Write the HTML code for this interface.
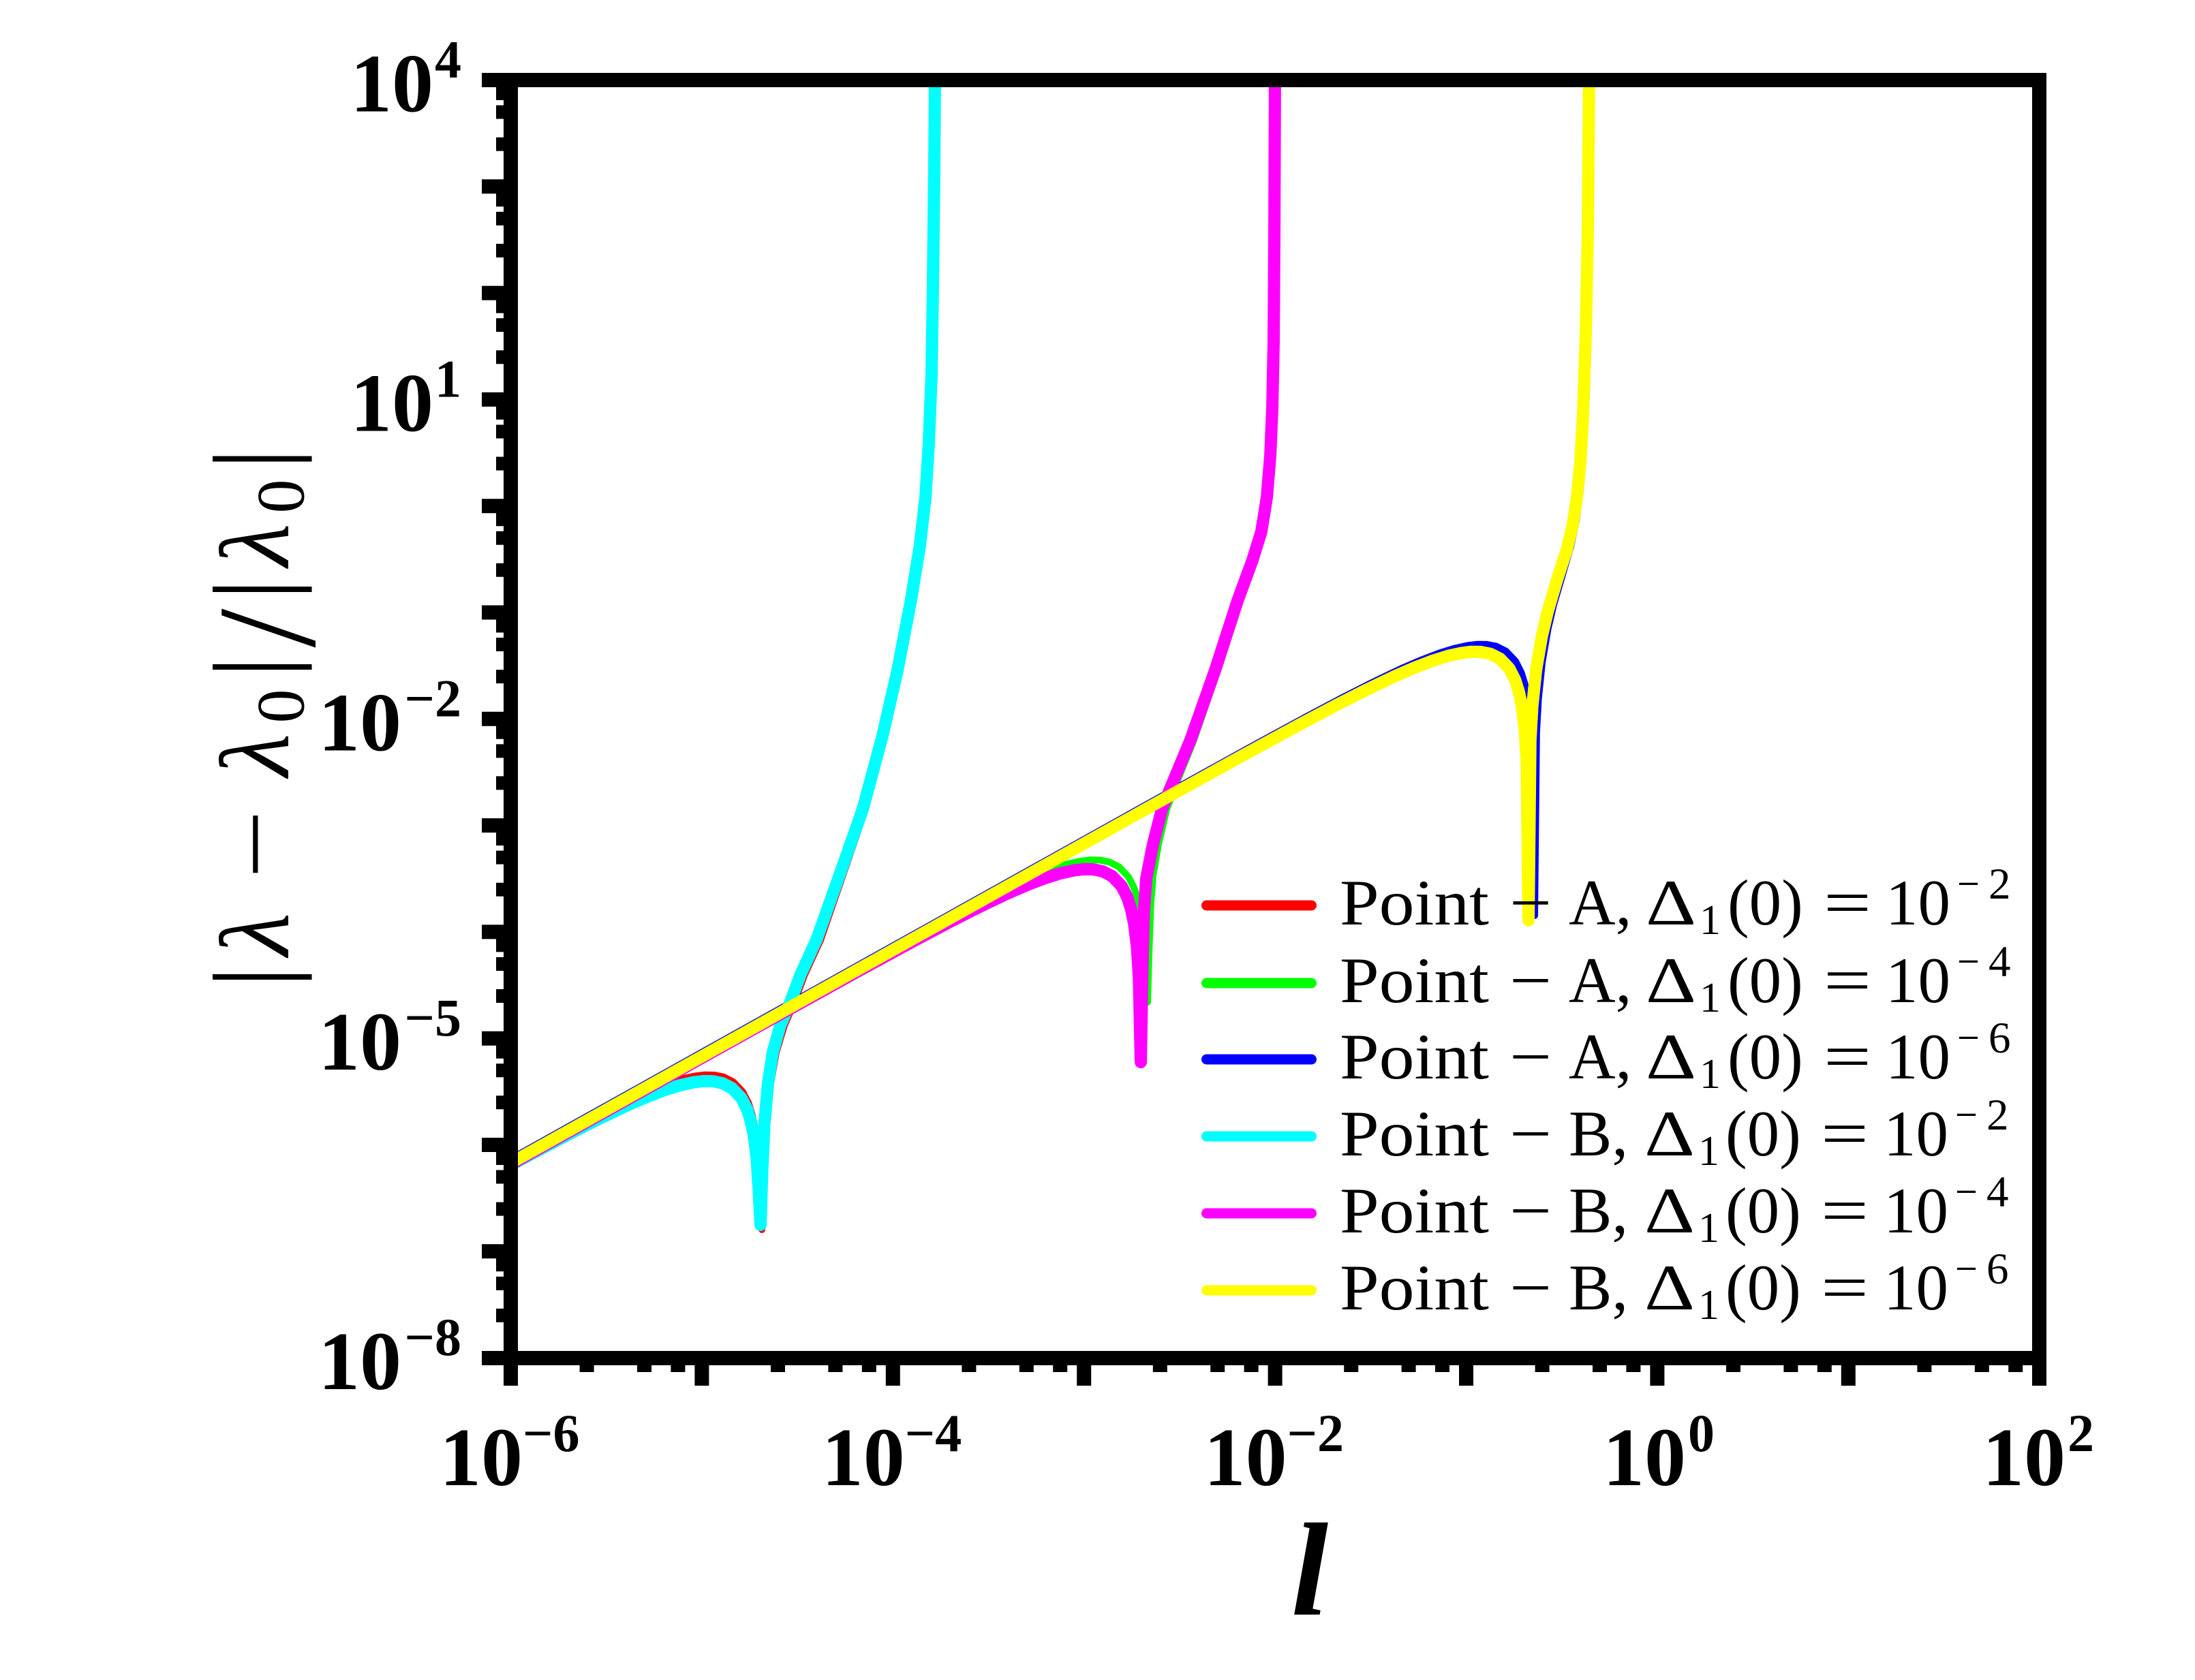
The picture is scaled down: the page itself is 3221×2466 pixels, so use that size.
<!DOCTYPE html>
<html>
<head>
<meta charset="utf-8">
<style>
html,body{margin:0;padding:0;background:#fff;}
svg{display:block;}
text{font-family:"Liberation Serif","Times New Roman",serif;fill:#000;}
</style>
</head>
<body>
<svg width="3221" height="2466" viewBox="0 0 3221 2466" xmlns="http://www.w3.org/2000/svg">
<defs>
<clipPath id="c"><rect x="760" y="128" width="2222" height="1855"/></clipPath>
</defs>
<rect x="0" y="0" width="3221" height="2466" fill="#fff"/>

<g clip-path="url(#c)" fill="none" stroke-linejoin="round" stroke-linecap="round">
<!-- red: Point A, 1e-2 -->
<path stroke="#ff0000" stroke-width="10" d="M750 1701.9 L781.5 1684.9 L837.6 1655.2 L879.7 1633.8 L921.7 1613.7 L949.8 1601.5 L977.8 1590.8 L1000.2 1583.8 L1019.9 1579.5 L1033.9 1577.8 L1047.9 1578 L1061.9 1580.8 L1075.9 1587.9 L1090 1602.7 L1098.4 1619.3 L1104 1637.2 L1108.2 1657.5 L1112.4 1691.5 L1115.2 1736 L1118 1805 L1120.5 1730 L1125 1650 L1131 1590 L1139 1545 L1151 1505 L1163 1478 L1181 1430 L1204 1380 L1235 1290 L1270 1188 L1298 1080 L1319 984 L1339 880 L1352 800 L1360 730 L1365 650 L1369 550 L1371 420 L1373 250 L1374 100"/>
<!-- green: Point A, 1e-4 -->
<path stroke="#00ff00" stroke-width="10" d="M750 1700.8 L1123.2 1492.7 L1263.4 1415.1 L1347.5 1369.4 L1403.6 1339.7 L1445.7 1318.3 L1487.7 1298.2 L1515.8 1286 L1543.8 1275.3 L1566.2 1268.3 L1585.9 1264 L1599.9 1262.3 L1613.9 1262.5 L1627.9 1265.3 L1641.9 1272.4 L1656 1287.2 L1664.4 1303.8 L1670 1321.7 L1674.2 1342 L1678.4 1376 L1681.2 1420.5 L1684 1471 L1686 1400 L1688.5 1330 L1692 1285 L1700 1239 L1712 1188 L1723 1158 L1752 1086 L1787 984 L1819 882 L1841 822 L1854 780 L1861 730 L1866 670 L1869 600 L1871 500 L1872 350 L1872.5 100"/>
<!-- blue: Point A, 1e-6 -->
<path stroke="#0000ff" stroke-width="10" d="M750 1700.8 L1691.2 1176.1 L1831.4 1098.5 L1915.5 1052.8 L1971.6 1023.1 L2013.7 1001.7 L2055.7 981.6 L2083.8 969.4 L2111.8 958.7 L2134.2 951.7 L2153.9 947.4 L2167.9 945.7 L2181.9 945.9 L2195.9 948.7 L2209.9 955.8 L2224 970.6 L2232.4 987.2 L2238 1005.1 L2242.2 1025.4 L2246.4 1059.4 L2249.2 1103.9 L2252 1344 L2254.8 1075.7 L2257.6 1025.4 L2263.2 971.6 L2271.6 923 L2280 887.5 L2294 839.7 L2305 802 L2313 765 L2319 720 L2324 660 L2328 580 L2331 460 L2333 320 L2335 100"/>
<!-- cyan: Point B, 1e-2 -->
<path stroke="#00ffff" stroke-width="18" d="M750 1709.9 L779.5 1694 L835.6 1664.3 L877.7 1642.9 L919.7 1622.8 L947.8 1610.6 L975.8 1599.9 L998.2 1592.9 L1017.9 1588.6 L1031.9 1586.9 L1045.9 1587.1 L1059.9 1589.9 L1073.9 1597 L1088 1611.8 L1096.4 1628.4 L1102 1646.3 L1106.2 1666.6 L1110.4 1700.6 L1113.2 1745.1 L1116 1798 L1118.5 1720 L1121.7 1650 L1127 1590 L1134 1545 L1145 1505 L1157 1478 L1175 1430 L1198 1380 L1230 1290 L1266 1188 L1295 1080 L1317 984 L1337 880 L1350 800 L1358 730 L1363 650 L1367 550 L1369 420 L1371 250 L1372 100"/>
<!-- magenta: Point B, 1e-4 -->
<path stroke="#ff00ff" stroke-width="18" d="M750 1708.8 L1113.2 1506.3 L1253.4 1428.7 L1337.5 1383 L1393.6 1353.3 L1435.7 1331.9 L1477.7 1311.8 L1505.8 1299.6 L1533.8 1288.9 L1556.2 1281.9 L1575.9 1277.6 L1589.9 1275.9 L1603.9 1276.1 L1617.9 1278.9 L1631.9 1286 L1646 1300.8 L1654.4 1317.4 L1660 1335.3 L1664.2 1355.6 L1668.4 1389.6 L1671.2 1434.1 L1674 1559 L1676.5 1420 L1678.5 1340 L1682 1290 L1692 1239 L1705 1188 L1717 1158 L1747 1086 L1783 984 L1816 882 L1838 822 L1851 780 L1859 730 L1864 670 L1867 600 L1869 500 L1870 350 L1871 100"/>
<!-- yellow: Point B, 1e-6 -->
<path stroke="#ffff00" stroke-width="18" d="M750 1706.8 L1682.2 1187.1 L1822.4 1109.5 L1906.5 1063.8 L1962.6 1034.1 L2004.7 1012.7 L2046.7 992.6 L2074.8 980.4 L2102.8 969.7 L2125.2 962.7 L2144.9 958.4 L2158.9 956.7 L2172.9 956.9 L2186.9 959.7 L2200.9 966.8 L2215 981.6 L2223.4 998.2 L2229 1016.1 L2233.2 1036.4 L2237.4 1070.4 L2240.2 1114.9 L2243 1351 L2245.8 1086.7 L2248.6 1036.4 L2254.2 982.6 L2262.6 934 L2271 898.5 L2285 850.7 L2299 807.6 L2308 770 L2314 730 L2319 680 L2323 610 L2327 490 L2330 340 L2332 100"/>
</g>

<!-- legend lines -->
<g stroke-width="15" stroke-linecap="round" fill="none">
<path stroke="#ff0000" d="M1770.5 1329H1924.5"/>
<path stroke="#00ff00" d="M1770.5 1443H1924.5"/>
<path stroke="#0000ff" d="M1770.5 1555H1924.5"/>
<path stroke="#00ffff" d="M1770.5 1668H1924.5"/>
<path stroke="#ff00ff" d="M1770.5 1781H1924.5"/>
<path stroke="#ffff00" d="M1770.5 1894H1924.5"/>
</g>

<!-- legend text -->
<g font-size="95">
<text x="1966" y="1357" textLength="219" lengthAdjust="spacingAndGlyphs">Point</text>
<text x="2215" y="1357" textLength="62" lengthAdjust="spacingAndGlyphs">−</text>
<text x="2302" y="1357">A,</text>
<text x="2415" y="1357" textLength="74" lengthAdjust="spacingAndGlyphs">Δ</text>
<text x="2494" y="1371" font-size="62">1</text>
<text x="2535" y="1357">(0)</text>
<text x="2676" y="1357" textLength="70" lengthAdjust="spacingAndGlyphs">=</text>
<text x="2767" y="1357">10</text>
<text x="2872" y="1319" font-size="65" textLength="33" lengthAdjust="spacingAndGlyphs">−</text>
<text x="2918" y="1319" font-size="65">2</text>

<text x="1966" y="1471" textLength="219" lengthAdjust="spacingAndGlyphs">Point</text>
<text x="2215" y="1471" textLength="62" lengthAdjust="spacingAndGlyphs">−</text>
<text x="2302" y="1471">A,</text>
<text x="2415" y="1471" textLength="74" lengthAdjust="spacingAndGlyphs">Δ</text>
<text x="2494" y="1485" font-size="62">1</text>
<text x="2535" y="1471">(0)</text>
<text x="2676" y="1471" textLength="70" lengthAdjust="spacingAndGlyphs">=</text>
<text x="2767" y="1471">10</text>
<text x="2872" y="1433" font-size="65" textLength="33" lengthAdjust="spacingAndGlyphs">−</text>
<text x="2918" y="1433" font-size="65">4</text>

<text x="1966" y="1583" textLength="219" lengthAdjust="spacingAndGlyphs">Point</text>
<text x="2215" y="1583" textLength="62" lengthAdjust="spacingAndGlyphs">−</text>
<text x="2302" y="1583">A,</text>
<text x="2415" y="1583" textLength="74" lengthAdjust="spacingAndGlyphs">Δ</text>
<text x="2494" y="1597" font-size="62">1</text>
<text x="2535" y="1583">(0)</text>
<text x="2676" y="1583" textLength="70" lengthAdjust="spacingAndGlyphs">=</text>
<text x="2767" y="1583">10</text>
<text x="2872" y="1545" font-size="65" textLength="33" lengthAdjust="spacingAndGlyphs">−</text>
<text x="2918" y="1545" font-size="65">6</text>

<text x="1966" y="1696" textLength="219" lengthAdjust="spacingAndGlyphs">Point</text>
<text x="2215" y="1696" textLength="62" lengthAdjust="spacingAndGlyphs">−</text>
<text x="2302" y="1696">B,</text>
<text x="2413" y="1696" textLength="74" lengthAdjust="spacingAndGlyphs">Δ</text>
<text x="2492" y="1710" font-size="62">1</text>
<text x="2532" y="1696">(0)</text>
<text x="2672" y="1696" textLength="70" lengthAdjust="spacingAndGlyphs">=</text>
<text x="2764" y="1696">10</text>
<text x="2869" y="1658" font-size="65" textLength="33" lengthAdjust="spacingAndGlyphs">−</text>
<text x="2915" y="1658" font-size="65">2</text>

<text x="1966" y="1809" textLength="219" lengthAdjust="spacingAndGlyphs">Point</text>
<text x="2215" y="1809" textLength="62" lengthAdjust="spacingAndGlyphs">−</text>
<text x="2302" y="1809">B,</text>
<text x="2413" y="1809" textLength="74" lengthAdjust="spacingAndGlyphs">Δ</text>
<text x="2492" y="1823" font-size="62">1</text>
<text x="2532" y="1809">(0)</text>
<text x="2672" y="1809" textLength="70" lengthAdjust="spacingAndGlyphs">=</text>
<text x="2764" y="1809">10</text>
<text x="2869" y="1771" font-size="65" textLength="33" lengthAdjust="spacingAndGlyphs">−</text>
<text x="2915" y="1771" font-size="65">4</text>

<text x="1966" y="1922" textLength="219" lengthAdjust="spacingAndGlyphs">Point</text>
<text x="2215" y="1922" textLength="62" lengthAdjust="spacingAndGlyphs">−</text>
<text x="2302" y="1922">B,</text>
<text x="2413" y="1922" textLength="74" lengthAdjust="spacingAndGlyphs">Δ</text>
<text x="2492" y="1936" font-size="62">1</text>
<text x="2532" y="1922">(0)</text>
<text x="2672" y="1922" textLength="70" lengthAdjust="spacingAndGlyphs">=</text>
<text x="2764" y="1922">10</text>
<text x="2869" y="1884" font-size="65" textLength="33" lengthAdjust="spacingAndGlyphs">−</text>
<text x="2915" y="1884" font-size="65">6</text>
</g>

<!-- axes frame -->
<g fill="#000">
<rect x="739" y="107" width="21" height="1927"/>
<rect x="2982" y="107" width="21" height="1927"/>
<rect x="707" y="107" width="2296" height="21"/>
<rect x="707" y="1983" width="2296" height="21"/>
</g>

<!-- ticks -->
<g stroke="#000" fill="none">
<path stroke-width="21" d="M707 273.8H739M707 430.1H739M707 586.4H739M707 742.7H739M707 899H739M707 1055.3H739M707 1211.6H739M707 1367.9H739M707 1524.2H739M707 1680.5H739M707 1836.8H739"/>
<path stroke-width="20" d="M728 137H739M728 164.55H739M728 211.6H739M728 293.3H739M728 320.85H739M728 367.9H739M728 449.6H739M728 477.15H739M728 524.2H739M728 605.9H739M728 633.45H739M728 680.5H739M728 762.2H739M728 789.75H739M728 836.8H739M728 918.5H739M728 946.05H739M728 993.1H739M728 1074.8H739M728 1102.35H739M728 1149.4H739M728 1231.1H739M728 1258.65H739M728 1305.7H739M728 1387.4H739M728 1414.95H739M728 1462H739M728 1543.7H739M728 1571.25H739M728 1618.3H739M728 1700H739M728 1727.55H739M728 1774.6H739M728 1856.3H739M728 1883.85H739M728 1930.9H739"/>
<path stroke-width="21" d="M1029.9 2004V2034M1310.3 2004V2034M1590.7 2004V2034M1871.1 2004V2034M2151.5 2004V2034M2431.9 2004V2034M2712.3 2004V2034"/>
<path stroke-width="21" d="M861.1 2004V2014M945.5 2004V2014M994.9 2004V2014M1141.5 2004V2014M1225.9 2004V2014M1275.3 2004V2014M1421.9 2004V2014M1506.3 2004V2014M1555.7 2004V2014M1702.3 2004V2014M1786.7 2004V2014M1836.1 2004V2014M1982.7 2004V2014M2067.1 2004V2014M2116.5 2004V2014M2263.1 2004V2014M2347.5 2004V2014M2396.9 2004V2014M2543.5 2004V2014M2627.9 2004V2014M2677.3 2004V2014M2823.9 2004V2014M2908.3 2004V2014M2957.7 2004V2014"/>
</g>

<!-- y tick labels -->
<g font-weight="bold" font-size="122">
<text x="636" y="163.5" text-anchor="end">10</text>
<text x="677" y="113.5" font-size="78" text-anchor="end">4</text>
<text x="636" y="632.4" text-anchor="end">10</text>
<text x="677" y="582.4" font-size="78" text-anchor="end">1</text>
<text x="589" y="1101.3" text-anchor="end">10</text>
<text x="677" y="1051.3" font-size="78" text-anchor="end">−2</text>
<text x="589" y="1570.2" text-anchor="end">10</text>
<text x="677" y="1520.2" font-size="78" text-anchor="end">−5</text>
<text x="589" y="2039.1" text-anchor="end">10</text>
<text x="677" y="1989.1" font-size="78" text-anchor="end">−8</text>
</g>

<!-- x tick labels -->
<g font-weight="bold" font-size="122">
<text x="767" y="2180" text-anchor="end">10</text>
<text x="767" y="2130" font-size="78">−6</text>
<text x="1327.8" y="2180" text-anchor="end">10</text>
<text x="1327.8" y="2130" font-size="78">−4</text>
<text x="1888.6" y="2180" text-anchor="end">10</text>
<text x="1888.6" y="2130" font-size="78">−2</text>
<text x="2474" y="2180" text-anchor="end">10</text>
<text x="2477" y="2130" font-size="78">0</text>
<text x="3031" y="2180" text-anchor="end">10</text>
<text x="3034" y="2130" font-size="78">2</text>
</g>

<!-- x axis title -->
<text x="1922" y="2370" font-size="195" font-weight="bold" font-style="italic" text-anchor="middle">l</text>

<!-- y axis title -->
<g transform="translate(423,1434) rotate(-90)">
<text x="0" y="0" font-size="160" text-anchor="middle">|</text>
<text x="62.5" y="0" font-size="145" font-style="italic" text-anchor="middle">λ</text>
<text x="143.7" y="0" font-size="145" textLength="102" lengthAdjust="spacingAndGlyphs">−</text>
<text x="325.7" y="0" font-size="145" font-style="italic" text-anchor="middle">λ</text>
<text x="397.5" y="22.5" font-size="100" text-anchor="middle">0</text>
<text x="455" y="0" font-size="160" text-anchor="middle">|</text>
<text x="512" y="38" font-size="206" text-anchor="middle">/</text>
<text x="569" y="0" font-size="160" text-anchor="middle">|</text>
<text x="634" y="0" font-size="145" font-style="italic" text-anchor="middle">λ</text>
<text x="705.5" y="22.5" font-size="100" text-anchor="middle">0</text>
<text x="760.5" y="0" font-size="160" text-anchor="middle">|</text>
</g>
</svg>
</body>
</html>
